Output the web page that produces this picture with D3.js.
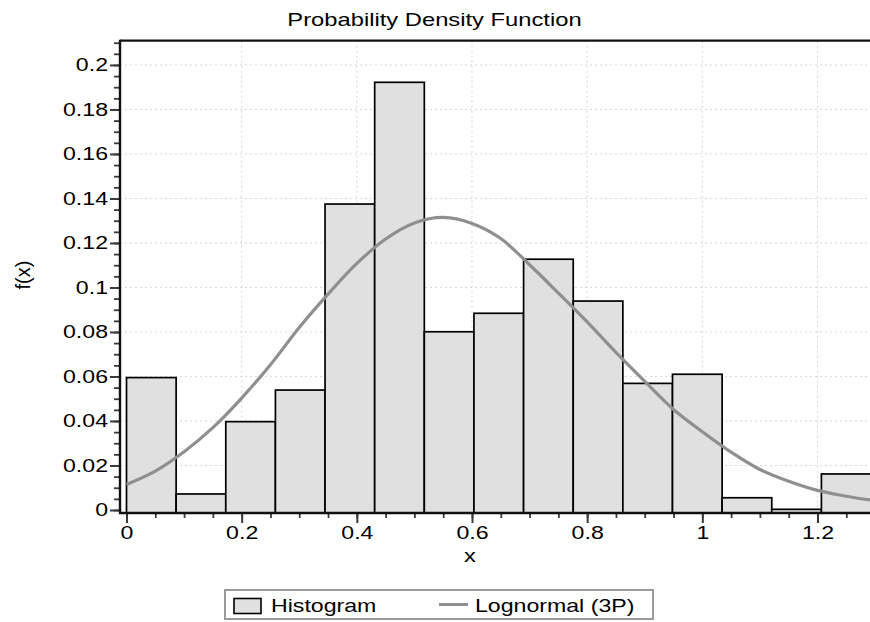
<!DOCTYPE html>
<html>
<head>
<meta charset="utf-8">
<script src="https://cdn.jsdelivr.net/npm/d3@7"></script>
<style>
  body { margin: 0; background: #fff; }
  svg { display: block; }
  text { font-family: "Liberation Sans", Arial, sans-serif; fill: #000; }
</style>
</head>
<body>
<svg id="chart" width="870" height="622"></svg>
<script>

// histogram bins (edges) and the density of each bin
var binEdges = [0, 0.0862, 0.1724, 0.2586, 0.3448, 0.431, 0.5172, 0.6034, 0.6896,
                0.7758, 0.862, 0.9482, 1.0344, 1.1206, 1.2068, 1.293];
var densities = [0.0595, 0.0072, 0.0397, 0.0539, 0.1375, 0.1922, 0.0801, 0.0884,
                 0.1127, 0.0939, 0.0569, 0.061, 0.0055, 0.0003, 0.0162];

// fitted Lognormal (3P) curve
var curveX = [0, 0.05, 0.1, 0.15, 0.2, 0.25, 0.3, 0.35, 0.4, 0.45, 0.5, 0.55, 0.6,
              0.65, 0.7, 0.75, 0.8, 0.85, 0.9, 0.95, 1.0, 1.05, 1.1, 1.15, 1.2, 1.25, 1.2912];
var curveY = [0.0115, 0.0175, 0.0262, 0.037, 0.0503, 0.0653, 0.082, 0.097, 0.1108,
              0.1218, 0.129, 0.1315, 0.1288, 0.122, 0.1102, 0.0975, 0.0845, 0.0708,
              0.0578, 0.0452, 0.0352, 0.026, 0.0182, 0.0129, 0.0088, 0.0062, 0.0045];

var xTicks = [0, 0.2, 0.4, 0.6, 0.8, 1, 1.2];
var yTicks = [0, 0.02, 0.04, 0.06, 0.08, 0.1, 0.12, 0.14, 0.16, 0.18, 0.2];
var titleText = "Probability Density Function";
var xLabel = "x";
var yLabel = "f(x)";
var legendLabels = ["Histogram", "Lognormal (3P)"];

(function () {
  'use strict';

  var svg = d3.select('#chart');
  var left = 120, right = 870, top = 40.7, bottom = 513;
  var sx = 1.25;            // the reference text is stretched sideways
  var curveColor = '#8f8f8f';
  var fmt = function (d) { return d === 0 ? '0' : String(+d.toFixed(2)); };

  var x = d3.scaleLinear().domain([-0.0113, 1.2912]).range([left, right]);
  var y = d3.scaleLinear().domain([-0.00135, 0.2109]).range([bottom, top]);

  svg.append('clipPath').attr('id', 'plot-clip')
    .append('rect')
    .attr('x', left).attr('y', top)
    .attr('width', right - left).attr('height', bottom - top);

  /*====================================
  Grid
  ======================================*/

  var grid = svg.append('g')
    .attr('stroke', '#d6d6d6')
    .attr('stroke-width', 1)
    .attr('stroke-dasharray', '2,3');

  grid.selectAll('.gy').data(yTicks).enter().append('line')
    .attr('x1', left).attr('x2', right)
    .attr('y1', function (d) { return y(d); })
    .attr('y2', function (d) { return y(d); });

  grid.selectAll('.gx').data(xTicks.slice(1)).enter().append('line')
    .attr('y1', top).attr('y2', bottom)
    .attr('x1', function (d) { return x(d); })
    .attr('x2', function (d) { return x(d); });

  /*====================================
  Histogram + curve
  ======================================*/

  var plot = svg.append('g').attr('clip-path', 'url(#plot-clip)');

  plot.selectAll('rect.bar')
    .data(densities)
    .enter()
    .append('rect')
    .attr('class', 'bar')
    .attr('x', function (d, i) { return x(binEdges[i]); })
    .attr('width', function (d, i) { return x(binEdges[i + 1]) - x(binEdges[i]); })
    .attr('y', function (d) { return y(d); })
    .attr('height', function (d) { return bottom - y(d); })
    .attr('fill', '#e0e0e0')
    .attr('stroke', '#000')
    .attr('stroke-width', 1.7);

  var line = d3.line()
    .x(function (d, i) { return x(curveX[i]); })
    .y(function (d) { return y(d); })
    .curve(d3.curveCatmullRom.alpha(0.5));

  plot.append('path')
    .datum(curveY)
    .attr('d', line)
    .attr('fill', 'none')
    .attr('stroke', curveColor)
    .attr('stroke-width', 3.2);

  /*====================================
  Axes
  ======================================*/

  function styleTicks(g, width) {
    g.select('.domain').remove();
    g.selectAll('.tick line').attr('stroke', '#3a3a3a').attr('stroke-width', width);
  }

  var yMinor = d3.range(0, 0.2101, 0.005);
  var xMinor = d3.range(0, 1.2912, 0.05);

  svg.append('g')
    .attr('transform', 'translate(' + left + ',0)')
    .call(d3.axisLeft(y).tickValues(yMinor).tickSize(6).tickFormat(''))
    .call(styleTicks, 1.8);

  var yAxis = svg.append('g')
    .attr('transform', 'translate(' + left + ',0)')
    .call(d3.axisLeft(y).tickValues(yTicks).tickSize(10).tickPadding(2).tickFormat(fmt))
    .call(styleTicks, 2);

  yAxis.selectAll('text')
    .attr('x', -12 / sx)
    .attr('transform', 'scale(' + sx + ',1)')
    .style('font-size', '18.5px');

  svg.append('g')
    .attr('transform', 'translate(0,' + bottom + ')')
    .call(d3.axisBottom(x).tickValues(xMinor).tickSize(5).tickFormat(''))
    .call(styleTicks, 1.8);

  var xAxis = svg.append('g')
    .attr('transform', 'translate(0,' + bottom + ')')
    .call(d3.axisBottom(x).tickValues(xTicks).tickSize(10).tickPadding(3).tickFormat(fmt))
    .call(styleTicks, 2);

  xAxis.selectAll('text')
    .attr('transform', 'scale(' + sx + ',1)')
    .style('font-size', '18.5px');

  // frame: left axis, bottom axis, top border
  var frame = svg.append('g').attr('stroke', '#111').attr('fill', 'none');
  frame.append('line').attr('x1', left).attr('x2', left)
    .attr('y1', top - 1).attr('y2', bottom + 1).attr('stroke-width', 2.4);
  frame.append('line').attr('x1', left - 1).attr('x2', right)
    .attr('y1', bottom).attr('y2', bottom).attr('stroke-width', 2.4);
  frame.append('line').attr('x1', left).attr('x2', right)
    .attr('y1', top).attr('y2', top).attr('stroke-width', 2.2);

  /*====================================
  Title and labels
  ======================================*/

  svg.append('text')
    .attr('transform', 'translate(434.5,26) scale(' + sx + ',1)')
    .attr('text-anchor', 'middle')
    .style('font-size', '19px')
    .text(titleText);

  svg.append('text')
    .attr('transform', 'translate(470,562) scale(' + sx + ',1)')
    .attr('text-anchor', 'middle')
    .style('font-size', '19px')
    .text(xLabel);

  svg.append('text')
    .attr('transform', 'translate(30,275) rotate(-90)')
    .attr('text-anchor', 'middle')
    .style('font-size', '20px')
    .text(yLabel);

  /*====================================
  Legend
  ======================================*/

  var legend = svg.append('g');

  legend.append('rect')
    .attr('x', 225).attr('y', 590)
    .attr('width', 428).attr('height', 29)
    .attr('fill', '#fff')
    .attr('stroke', '#9a9a9a')
    .attr('stroke-width', 2);

  legend.append('rect')
    .attr('x', 234).attr('y', 598.5)
    .attr('width', 27).attr('height', 15)
    .attr('fill', '#e0e0e0')
    .attr('stroke', '#000')
    .attr('stroke-width', 1.6);

  legend.append('line')
    .attr('x1', 439).attr('x2', 468)
    .attr('y1', 604.5).attr('y2', 604.5)
    .attr('stroke', curveColor)
    .attr('stroke-width', 3);

  legend.selectAll('text.lg')
    .data(legendLabels)
    .enter()
    .append('text')
    .attr('class', 'lg')
    .attr('transform', function (d, i) {
      return 'translate(' + (i === 0 ? 271 : 475) + ',612) scale(' + sx + ',1)';
    })
    .style('font-size', '18.5px')
    .text(function (d) { return d; });

}());
</script>
</body>
</html>
